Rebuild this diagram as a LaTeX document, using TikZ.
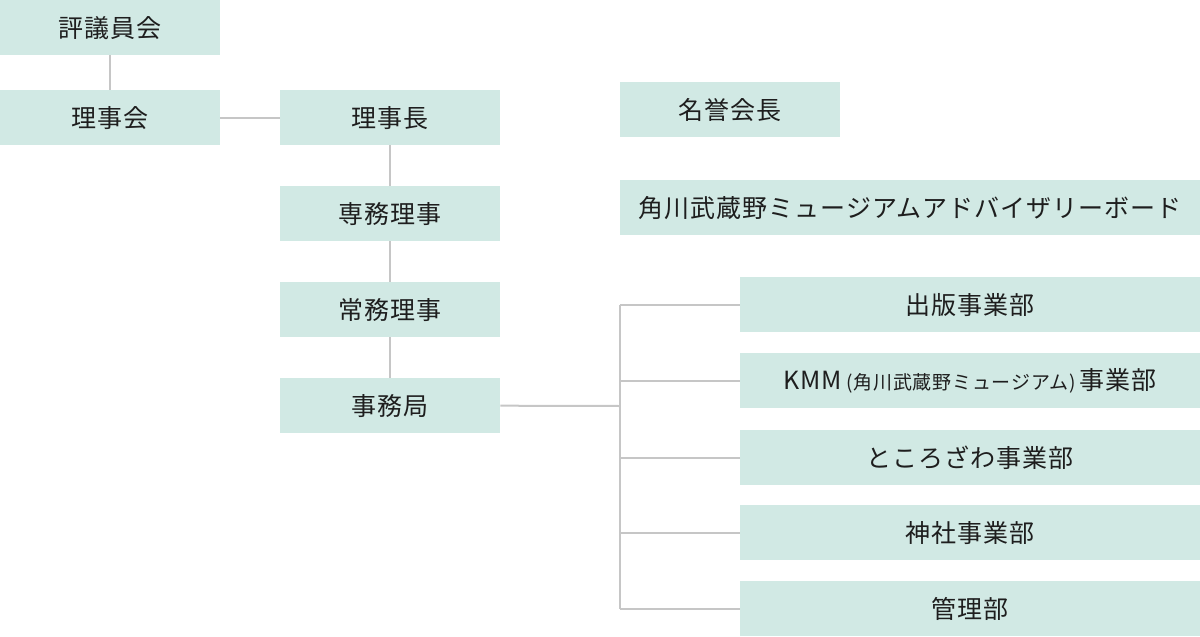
\documentclass[tikz,border=0pt]{standalone}
\usepackage{fontspec}
\setmainfont{Noto Sans CJK JP}[LetterSpace=4]
\definecolor{boxfill}{HTML}{D1E9E4}
\definecolor{linegray}{HTML}{C6C6C6}
\definecolor{textdark}{HTML}{1E1E1E}
\tikzset{
  orgbox/.style={fill=boxfill, anchor=north west, inner sep=0pt,
    minimum height=55pt, text=textdark, font=\fontsize{25}{30}\selectfont},
  narrowbox/.style={orgbox, minimum width=220pt},
  widebox/.style={orgbox, minimum width=460pt},
  orgline/.style={draw=linegray, line width=2pt}
}
\begin{document}
\begin{tikzpicture}[x=1pt, y=-1pt]
  \useasboundingbox (0,0) rectangle (1200,637);
  % left column
  \node[narrowbox] (hyogi) at (0,0) {評議員会};
  \node[narrowbox] (rijikai) at (0,90) {理事会};
  % middle column
  \node[narrowbox] (rijicho) at (280,90) {理事長};
  \node[narrowbox] (senmu) at (280,186) {専務理事};
  \node[narrowbox] (jomu) at (280,282) {常務理事};
  \node[narrowbox] (jimu) at (280,378) {事務局};
  % right column
  \node[narrowbox] (meiyo) at (620,82) {名誉会長};
  \node[orgbox, minimum width=580pt] (board) at (620,180) {角川武蔵野ミュージアムアドバイザリーボード};
  \node[widebox] (shuppan) at (740,277) {出版事業部};
  \node[widebox] (kmm) at (740,353) {KMM\,{\fontsize{19}{22}\selectfont(角川武蔵野ミュージアム)}\,事業部};
  \node[widebox] (tokoro) at (740,430) {ところざわ事業部};
  \node[widebox] (jinja) at (740,505) {神社事業部};
  \node[widebox] (kanri) at (740,581) {管理部};
  % connectors
  \draw[orgline] (hyogi) -- (rijikai);
  \draw[orgline] (rijikai) -- (rijicho);
  \draw[orgline] (rijicho) -- (senmu);
  \draw[orgline] (senmu) -- (jomu);
  \draw[orgline] (jomu) -- (jimu);
  \coordinate (bus) at (620,406);
  \draw[orgline] (jimu.east) -- (bus);
  \draw[orgline] (shuppan.west -| bus) -- (kanri.west -| bus);
  \foreach \dept in {shuppan, kmm, tokoro, jinja, kanri}
    \draw[orgline] (\dept.west -| bus) -- (\dept.west);
\end{tikzpicture}
\end{document}
